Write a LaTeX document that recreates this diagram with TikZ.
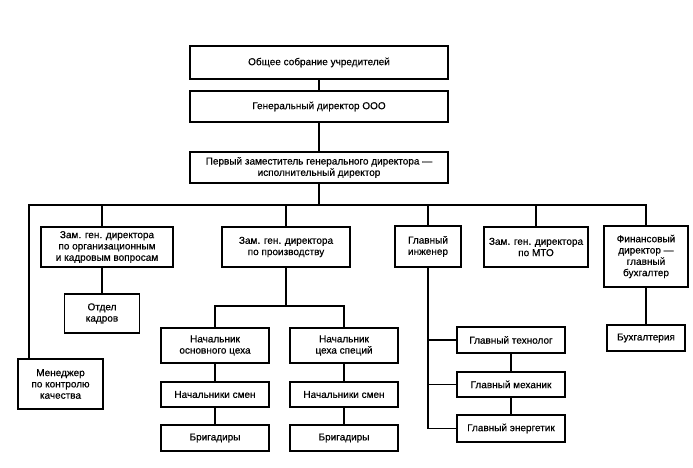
\documentclass[tikz,border=0pt]{standalone}
\usepackage{fontspec}
\setmainfont{Liberation Sans}[BoldFont=Liberation Sans, BoldFeatures={FakeBold=0.6}]
\begin{document}
\begin{tikzpicture}[x=1pt, y=-1pt,
        unit/.style={draw, line width=1.5pt, align=center, inner sep=1pt,
            font=\fontsize{10}{11.3}\selectfont\bfseries},
        link/.style={line width=1.5pt}
    ]
    \useasboundingbox (0,0) rectangle (693,468);

    % --- top of the chain ---
    \node[unit, minimum width=258, minimum height=33] (Sobr) at (319,62.5) {Общее собрание учредителей};
    \node[unit, minimum width=258, minimum height=31] (GenDir) at (319,106.5) {Генеральный директор ООО};
    \node[unit, minimum width=258, minimum height=31] (Perv) at (319,167.5)
        {Первый заместитель генерального директора —\\исполнительный директор};
    \draw[link] (Sobr)--(GenDir);
    \draw[link] (GenDir)--(Perv);

    % --- deputies row ---
    \coordinate (busL) at (29,205);
    \node[unit, minimum width=132, minimum height=40] (Org) at (107,247)
        {Зам. ген. директора\\по организационным\\и кадровым вопросам};
    \node[unit, minimum width=128, minimum height=40] (Proizv) at (286,247)
        {Зам. ген. директора\\по производству};
    \node[unit, minimum width=66, minimum height=41] (GlInzh) at (428,246.5) {Главный\\инженер};
    \node[unit, minimum width=104, minimum height=40] (MTO) at (536,247) {Зам. ген. директора\\по МТО};
    \node[unit, minimum width=84, minimum height=61] (Fin) at (646,256.5)
        {Финансовый\\директор —\\главный\\бухгалтер};
    \node[unit, minimum width=85, minimum height=50] (Menedzh) at (60.5,384)
        {Менеджер\\по контролю\\качества};
    \node[unit, minimum width=75, minimum height=39] (Kadry) at (102,313.5) {Отдел\\кадров};
    \draw[link] (Perv.south)--(Perv.south |- busL);
    \draw[link] (Menedzh.north -| busL)--(busL)--(busL -| Fin.north)--(Fin.north);
    \draw[link] (Org.north -| Kadry.north)--(Kadry.north |- busL);
    \draw[link] (Org.south -| Kadry.north)--(Kadry.north);
    \draw[link] (Proizv.north)--(Proizv.north |- busL);
    \draw[link] (GlInzh.north)--(GlInzh.north |- busL);
    \draw[link] (MTO.north)--(MTO.north |- busL);

    % --- production ---
    \coordinate (prodbus) at (286,306);
    \node[unit, minimum width=108, minimum height=35] (NachOsn) at (215,345.5) {Начальник\\основного цеха};
    \node[unit, minimum width=108, minimum height=35] (NachSpec) at (344,345.5) {Начальник\\цеха специй};
    \node[unit, minimum width=108, minimum height=25] (SmenA) at (215,394.5) {Начальники смен};
    \node[unit, minimum width=108, minimum height=25] (SmenB) at (344,394.5) {Начальники смен};
    \node[unit, minimum width=108, minimum height=26] (BrigA) at (215,438) {Бригадиры};
    \node[unit, minimum width=108, minimum height=26] (BrigB) at (344,438) {Бригадиры};
    \draw[link] (Proizv.south)--(prodbus);
    \draw[link] (NachOsn.north) |- (prodbus) -| (NachSpec.north);
    \draw[link] (NachOsn)--(SmenA);
    \draw[link] (SmenA)--(BrigA);
    \draw[link] (NachSpec)--(SmenB);
    \draw[link] (SmenB)--(BrigB);

    % --- chief engineer ---
    \node[unit, minimum width=108, minimum height=26] (Tech) at (511,340) {Главный технолог};
    \node[unit, minimum width=108, minimum height=25] (Mech) at (511,384.5) {Главный механик};
    \node[unit, minimum width=108, minimum height=27] (Energ) at (511,428.5) {Главный энергетик};
    \draw[link] (GlInzh.south) |- (Energ.west);
    \draw[link] (Tech.west)--(Tech.west -| GlInzh.south);
    \draw[link] (Mech.west)--(Mech.west -| GlInzh.south);
    \draw[link] (Tech)--(Mech);
    \draw[link] (Mech)--(Energ);

    % --- finance ---
    \node[unit, minimum width=78, minimum height=26] (Buh) at (646,338) {Бухгалтерия};
    \draw[link] (Fin)--(Buh);
\end{tikzpicture}
\end{document}
